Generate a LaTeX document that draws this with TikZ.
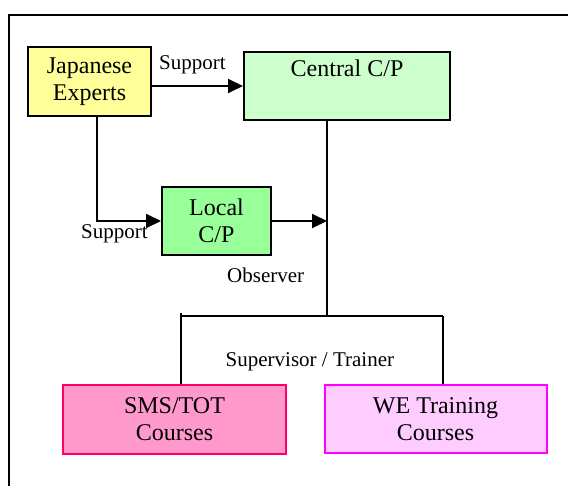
\documentclass[tikz,border=0pt]{standalone}
\usepackage{fontspec}
\setmainfont{Liberation Serif}
\usetikzlibrary{arrows.meta}
\definecolor{jpyellow}{HTML}{FFFF99}
\definecolor{cpgreen}{HTML}{CCFFCC}
\definecolor{lcgreen}{HTML}{99FF99}
\definecolor{smsfill}{HTML}{FF99CC}
\definecolor{smsline}{HTML}{FF0066}
\definecolor{wefill}{HTML}{FFCCFF}
\definecolor{weline}{HTML}{FF00FF}
\tikzset{
  box/.style={draw=black, line width=2pt, inner sep=0pt, align=center,
    font=\fontsize{24}{27}\selectfont},
  conn/.style={line width=2pt},
  arr/.style={line width=2pt, -{Triangle[length=15pt,width=14pt]}},
  lbl/.style={anchor=base west, inner sep=0pt, font=\fontsize{21}{24}\selectfont}
}
\begin{document}
\begin{tikzpicture}[x=1pt,y=-1pt]
\useasboundingbox (0,0) rectangle (568,486);
\clip (0,0) rectangle (568,486);
% outer frame
\draw[line width=2pt] (9,15) rectangle (620,540);

% boxes
\node[box, fill=jpyellow, minimum width=123pt, minimum height=69pt] (je) at (89.5,81.5) {Japanese\\Experts};
\node[box, fill=cpgreen, minimum width=206pt, minimum height=68pt,
  label={[anchor=north, inner sep=0pt, yshift=-9pt, font=\fontsize{24}{27}\selectfont]north:Central C/P}] (cen) at (347,86) {};
\node[box, fill=lcgreen, minimum width=109pt, minimum height=68pt] (loc) at (216.5,221) {Local\\C/P};
\node[box, fill=smsfill, draw=smsline, minimum width=223pt, minimum height=69pt] (sms) at (174.5,419.5) {SMS/TOT\\Courses};
\node[box, fill=wefill, draw=weline, minimum width=222pt, minimum height=68pt] (we) at (435.5,419) {WE Training\\Courses};

% junction points
\coordinate (jd) at (97,116);
\coordinate (cb) at (327,120);
\coordinate (bus) at (327,316);
\coordinate (bl) at (181,316);
\coordinate (br) at (443,316);
\coordinate (blt) at (181,313);

% connectors
\draw[arr] (je.east |- cen.west) -- (cen.west);
\draw[arr] (jd) |- (loc.west);
\draw[conn] (cb) -- (bus);
\draw[arr] (loc.east) -- (loc.east -| cb);
\draw[conn] (bl) -- (br);
\draw[conn] (blt) -- (sms.north -| bl);
\draw[conn] (br) -- (we.north -| br);

% labels
\node[lbl] (s1) at (159,70) {Support};
\node[lbl] (s2) at (81,239) {Support};
\node[lbl] (ob) at (227,283) {Observer};
\node[lbl] (st) at (225.5,367) {Supervisor / Trainer};
\end{tikzpicture}
\end{document}
